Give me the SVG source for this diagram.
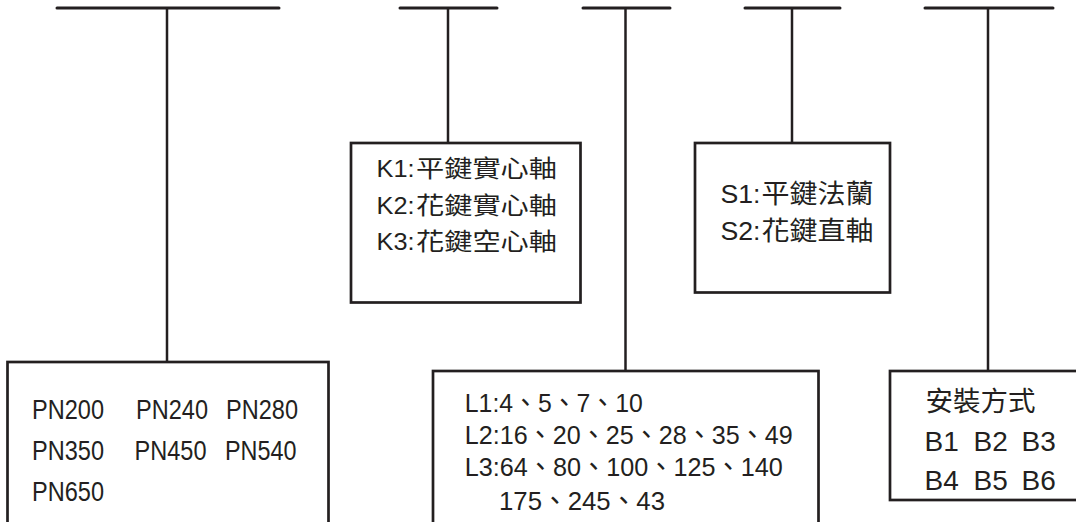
<svg xmlns="http://www.w3.org/2000/svg" width="1076" height="522" viewBox="0 0 1076 522">
<style>
.bar{stroke:#231f20;stroke-width:3;stroke-linecap:round;fill:none}
.stem{stroke:#231f20;stroke-width:2.5;fill:none}
.box{stroke:#231f20;stroke-width:2.7;fill:#fff}
text{font-family:"Liberation Sans","Noto Sans CJK TC",sans-serif;fill:#231f20}
.cjk{font-family:"Noto Sans CJK TC","Noto Sans CJK SC",sans-serif}
.pn{font-size:28.5px}
.l{font-size:26.5px}
.k{font-size:23.5px}
.s{font-size:26px}
.b{font-size:28px}
</style>
<rect width="1076" height="522" fill="#fff"/>
<g id="connectors">
<line class="bar" x1="57" y1="8" x2="279" y2="8"/>
<line class="stem" x1="167" y1="8" x2="167" y2="362"/>
<line class="bar" x1="400" y1="8" x2="497" y2="8"/>
<line class="stem" x1="448" y1="8" x2="448" y2="143"/>
<line class="bar" x1="583" y1="8" x2="670" y2="8"/>
<line class="stem" x1="625.5" y1="8" x2="625.5" y2="371"/>
<line class="bar" x1="745" y1="8" x2="840" y2="8"/>
<line class="stem" x1="792" y1="8" x2="792" y2="143"/>
<line class="bar" x1="925" y1="8" x2="1053" y2="8"/>
<line class="stem" x1="988" y1="8" x2="988" y2="371"/>
</g>
<g id="node-pn">
<rect class="box" x="7.5" y="362" width="321" height="180"/>
<text class="pn" x="32" y="419" textLength="72" lengthAdjust="spacingAndGlyphs">PN200</text>
<text class="pn" x="136" y="419" textLength="72" lengthAdjust="spacingAndGlyphs">PN240</text>
<text class="pn" x="226" y="419" textLength="72" lengthAdjust="spacingAndGlyphs">PN280</text>
<text class="pn" x="32" y="460" textLength="72" lengthAdjust="spacingAndGlyphs">PN350</text>
<text class="pn" x="134.5" y="460" textLength="72" lengthAdjust="spacingAndGlyphs">PN450</text>
<text class="pn" x="225" y="460" textLength="71.5" lengthAdjust="spacingAndGlyphs">PN540</text>
<text class="pn" x="32" y="500.7" textLength="72" lengthAdjust="spacingAndGlyphs">PN650</text>
</g>
<g id="node-k">
<rect class="box" x="351" y="143" width="229.5" height="159.5"/>
<text class="k" x="376.5" y="177" textLength="38" lengthAdjust="spacingAndGlyphs">K1:</text>
<text class="k cjk" x="416" y="177" textLength="141" lengthAdjust="spacingAndGlyphs">平鍵實心軸</text>
<text class="k" x="376.5" y="213.5" textLength="38" lengthAdjust="spacingAndGlyphs">K2:</text>
<text class="k cjk" x="416" y="213.5" textLength="141" lengthAdjust="spacingAndGlyphs">花鍵實心軸</text>
<text class="k" x="376.5" y="250" textLength="38" lengthAdjust="spacingAndGlyphs">K3:</text>
<text class="k cjk" x="416" y="250" textLength="141" lengthAdjust="spacingAndGlyphs">花鍵空心軸</text>
</g>
<g id="node-l">
<rect class="box" x="433" y="371" width="385.5" height="170"/>
<text class="l" x="464.8" y="411.7" textLength="178" lengthAdjust="spacingAndGlyphs">L1:4、5、7、10</text>
<text class="l" x="464.8" y="444" textLength="328" lengthAdjust="spacingAndGlyphs">L2:16、20、25、28、35、49</text>
<text class="l" x="464.8" y="476" textLength="318" lengthAdjust="spacingAndGlyphs">L3:64、80、100、125、140</text>
<text class="l" x="499" y="510" textLength="166" lengthAdjust="spacingAndGlyphs">175、245、43</text>
</g>
<g id="node-s">
<rect class="box" x="695" y="143" width="195" height="149.5"/>
<text class="s" x="720.5" y="203" textLength="40" lengthAdjust="spacingAndGlyphs">S1:</text>
<text class="s cjk" x="761.5" y="203" textLength="112" lengthAdjust="spacingAndGlyphs">平鍵法蘭</text>
<text class="s" x="720.5" y="239.5" textLength="40" lengthAdjust="spacingAndGlyphs">S2:</text>
<text class="s cjk" x="761.5" y="239.5" textLength="112" lengthAdjust="spacingAndGlyphs">花鍵直軸</text>
</g>
<g id="node-b">
<rect class="box" x="890" y="371" width="200" height="129"/>
<text class="cjk" font-size="27" x="925.5" y="411" textLength="110" lengthAdjust="spacingAndGlyphs">安裝方式</text>
<text class="b" x="924.5" y="450.7">B1</text>
<text class="b" x="973.5" y="450.7">B2</text>
<text class="b" x="1021.5" y="450.7">B3</text>
<text class="b" x="924.5" y="489.5">B4</text>
<text class="b" x="973.5" y="489.5">B5</text>
<text class="b" x="1021.5" y="489.5">B6</text>
</g>
</svg>
